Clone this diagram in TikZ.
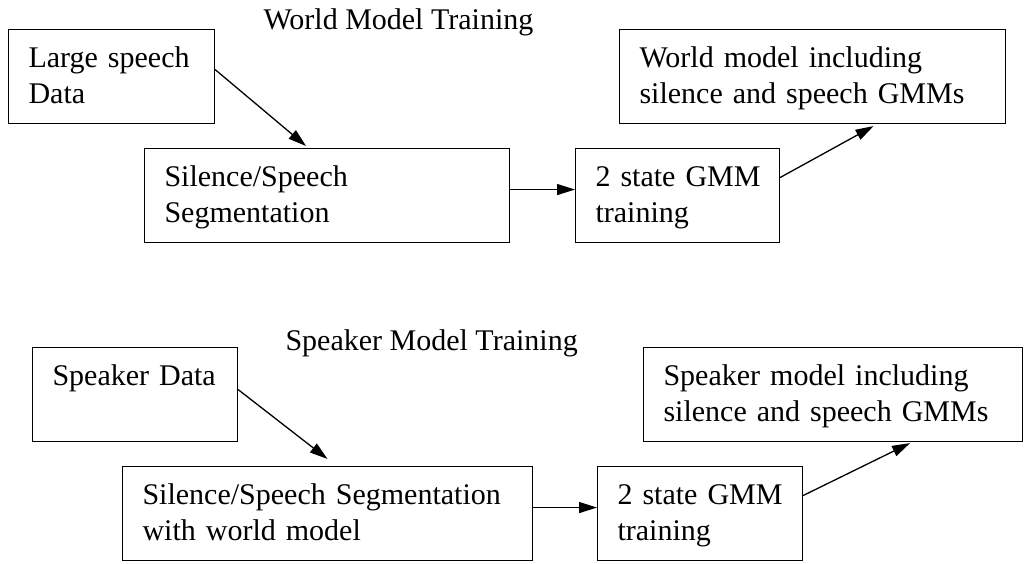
\documentclass[tikz,border=0pt]{standalone}
\usepackage{fontspec}
\setmainfont{Liberation Serif}
\usetikzlibrary{arrows.meta}

\begin{document}
\begin{tikzpicture}[x=1pt, y=1pt,
    box/.style={draw, line width=1.1pt, anchor=north west, align=left,
        inner xsep=20pt, inner ysep=0pt, text height=38pt, text depth=56pt,
        font=\fontsize{30}{36}\selectfont},
    title/.style={anchor=base west, font=\fontsize{30}{36}\selectfont},
    arr/.style={line width=1.3pt, -{Triangle[length=18pt,width=11pt]}}]

    \useasboundingbox (0,0) rectangle (1025,563);

    % world model training
    \node[title] (wtitle) at (260,533) {World Model Training};
    \node[box, text width=166pt] (large) at (8,534) {Large speech\\Data};
    \node[box, text width=325pt] (seg) at (144,415) {Silence/Speech\\Segmentation};
    \node[box, text width=164pt] (gmm) at (575,415) {2~state~GMM\\training};
    \node[box, text width=346pt] (world) at (619,534) {World model including\\silence and speech GMMs};

    \draw[arr] ([yshift=7pt]large.east) -- ([xshift=-21pt,yshift=2pt]seg.north);
    \draw[arr] ([yshift=6pt]seg.east) -- ([yshift=6pt]gmm.west);
    \draw[arr] ([yshift=18pt]gmm.east) -- ([xshift=61pt,yshift=-2pt]world.south);

    % speaker model training
    \node[title] (stitle) at (282,213) {Speaker Model Training};
    \node[box, text width=165pt] (spk) at (32,216) {Speaker Data};
    \node[box, text width=370pt] (seg2) at (122,97) {Silence/Speech Segmentation\\with world model};
    \node[box, text width=165pt] (gmm2) at (597,97) {2~state~GMM\\training};
    \node[box, text width=339pt] (spkm) at (643,216) {Speaker model including\\silence and speech GMMs};

    \draw[arr] ([yshift=5pt]spk.east) -- ([yshift=7pt]seg2.north);
    \draw[arr] ([yshift=6pt]seg2.east) -- ([yshift=6pt]gmm2.west);
    \draw[arr] ([yshift=18pt]gmm2.east) -- ([xshift=77pt,yshift=-1pt]spkm.south);

\end{tikzpicture}
\end{document}
